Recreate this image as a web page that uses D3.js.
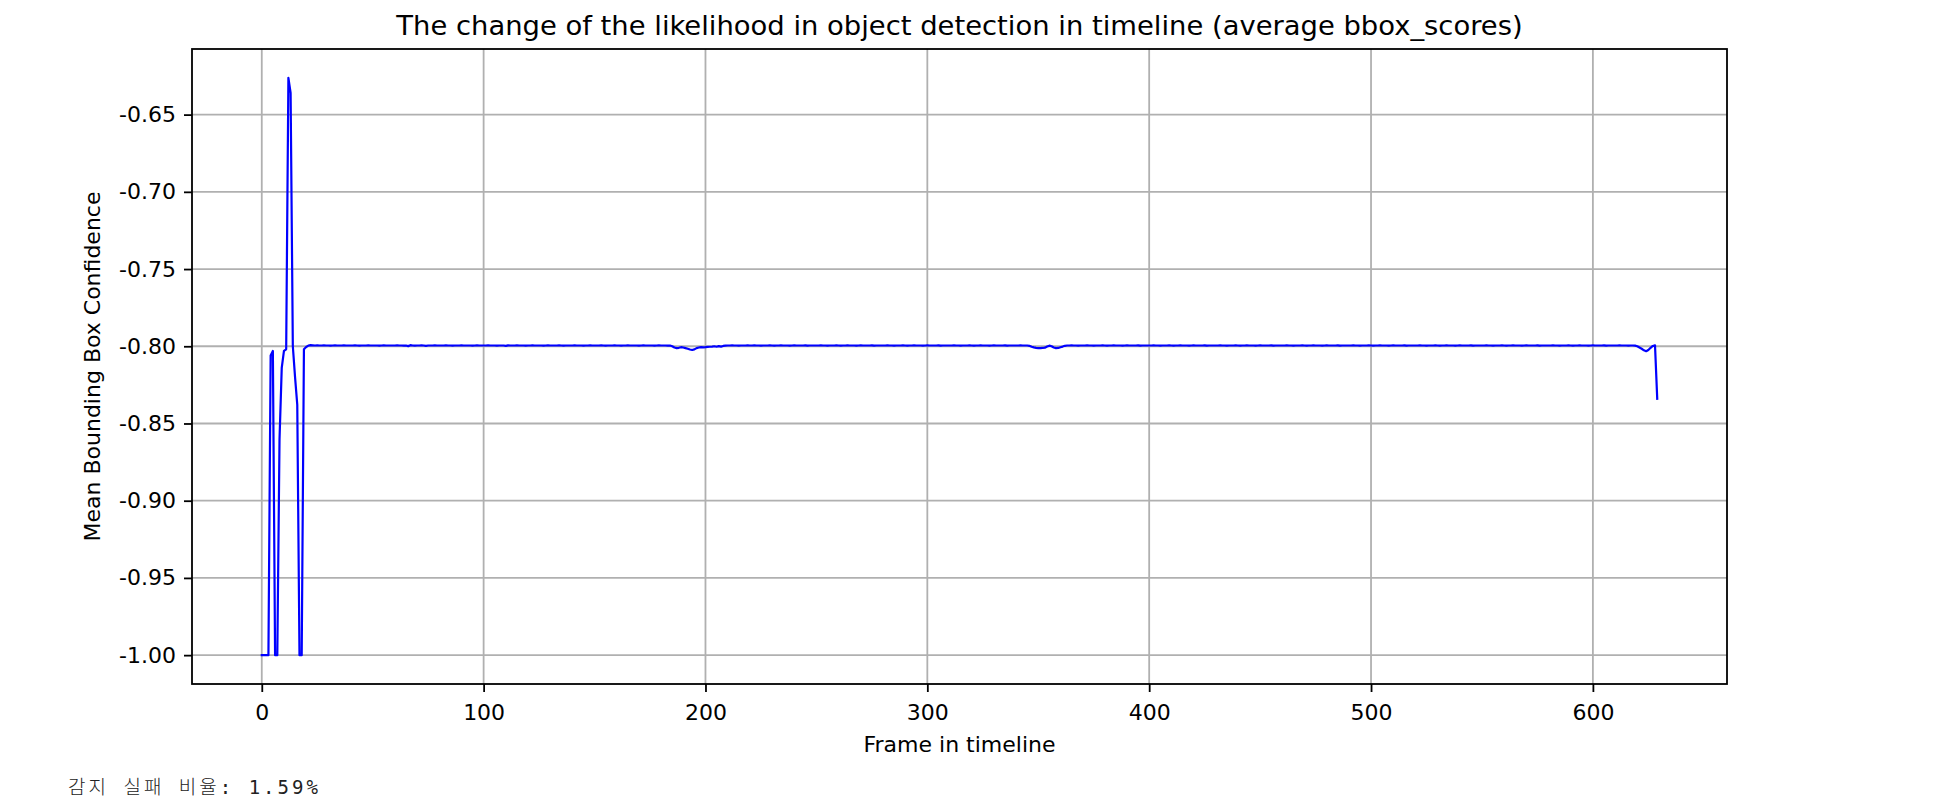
<!DOCTYPE html>
<html lang="ko">
<head>
    <meta charset="UTF-8">
    <title>bbox_scores timeline</title>
    <script src="https://cdn.jsdelivr.net/npm/d3@7"></script>
    <style>
        body {
            margin: 0;
            background-color: white;
        }

        svg text {
            font-family: "DejaVu Sans", sans-serif;
            fill: black;
        }

        .grid line {
            stroke: #b0b0b0;
            stroke-width: 1.8px;
        }

        .axis .tick line {
            stroke: black;
            stroke-width: 1.8px;
        }

        .fail-rate {
            font-family: "DejaVu Sans Mono", "Noto Sans CJK KR", monospace !important;
            font-weight: 300;
            fill: #222 !important;
        }
    </style>
</head>
<body>
    <svg id="chart" width="1938" height="810"></svg>

    <script>
        // mean bbox score per frame (index = frame number)
        const scores = [
            -1, -1, -1, -1, -0.806, -0.803, -1, -1, -0.86, -0.814,
            -0.803, -0.802, -0.6262, -0.636, -0.8, -0.82, -0.838, -1, -1, -0.802,
            -0.8005, -0.7996, -0.7993, -0.7994, -0.7995, -0.7994, -0.7995, -0.7995, -0.7994, -0.7995,
            -0.7995, -0.7996, -0.7995, -0.7994, -0.7995, -0.7995, -0.7995, -0.7994, -0.7995, -0.7995,
            -0.7995, -0.7995, -0.7994, -0.7995, -0.7996, -0.7995, -0.7995, -0.7995, -0.7994, -0.7995,
            -0.7995, -0.7995, -0.7995, -0.7996, -0.7995, -0.7994, -0.7995, -0.7995, -0.7995, -0.7995,
            -0.7995, -0.7994, -0.7995, -0.7995, -0.7996, -0.7995, -0.7999, -0.7993, -0.7995, -0.7996,
            -0.7995, -0.7995, -0.7994, -0.7995, -0.7997, -0.7995, -0.7995, -0.7995, -0.7994, -0.7995,
            -0.7995, -0.7995, -0.7995, -0.7994, -0.7995, -0.7995, -0.7996, -0.7995, -0.7995, -0.7995,
            -0.7994, -0.7995, -0.7995, -0.7995, -0.7995, -0.7996, -0.7995, -0.7994, -0.7995, -0.7995,
            -0.7995, -0.7995, -0.7994, -0.7995, -0.7995, -0.7995, -0.7996, -0.7995, -0.7995, -0.7995,
            -0.7997, -0.7994, -0.7995, -0.7995, -0.7995, -0.7994, -0.7995, -0.7995, -0.7995, -0.7996,
            -0.7995, -0.7995, -0.7994, -0.7995, -0.7995, -0.7995, -0.7995, -0.7996, -0.7995, -0.7994,
            -0.7995, -0.7995, -0.7995, -0.7995, -0.7994, -0.7995, -0.7996, -0.7995, -0.7995, -0.7995,
            -0.7995, -0.7994, -0.7995, -0.7995, -0.7995, -0.7996, -0.7995, -0.7995, -0.7994, -0.7995,
            -0.7995, -0.7995, -0.7995, -0.7994, -0.7995, -0.7996, -0.7995, -0.7995, -0.7995, -0.7994,
            -0.7995, -0.7995, -0.7996, -0.7995, -0.7995, -0.7994, -0.7995, -0.7995, -0.7995, -0.7995,
            -0.7996, -0.7995, -0.7994, -0.7995, -0.7995, -0.7995, -0.7995, -0.7996, -0.7995, -0.7994,
            -0.7995, -0.7995, -0.7995, -0.7996, -0.7995, -0.8000, -0.8008, -0.8012, -0.8010, -0.8006,
            -0.8008, -0.8012, -0.8016, -0.8021, -0.8024, -0.8020, -0.8012, -0.8008, -0.8006, -0.8007,
            -0.8006, -0.8004, -0.8003, -0.8002, -0.8000, -0.8003, -0.7999, -0.8002, -0.7998, -0.7996,
            -0.7995, -0.7995, -0.7994, -0.7995, -0.7995, -0.7996, -0.7995, -0.7995, -0.7995, -0.7994,
            -0.7995, -0.7995, -0.7994, -0.7995, -0.7995, -0.7996, -0.7995, -0.7995, -0.7995, -0.7994,
            -0.7995, -0.7996, -0.7995, -0.7995, -0.7994, -0.7995, -0.7995, -0.7995, -0.7996, -0.7995,
            -0.7994, -0.7995, -0.7995, -0.7995, -0.7995, -0.7994, -0.7996, -0.7995, -0.7995, -0.7995,
            -0.7995, -0.7995, -0.7994, -0.7995, -0.7995, -0.7996, -0.7995, -0.7995, -0.7995, -0.7994,
            -0.7995, -0.7996, -0.7995, -0.7995, -0.7994, -0.7995, -0.7995, -0.7995, -0.7996, -0.7995,
            -0.7994, -0.7995, -0.7995, -0.7995, -0.7995, -0.7994, -0.7996, -0.7995, -0.7995, -0.7995,
            -0.7995, -0.7995, -0.7994, -0.7995, -0.7995, -0.7996, -0.7995, -0.7995, -0.7995, -0.7994,
            -0.7995, -0.7996, -0.7995, -0.7995, -0.7994, -0.7995, -0.7995, -0.7995, -0.7996, -0.7995,
            -0.7994, -0.7995, -0.7995, -0.7995, -0.7995, -0.7994, -0.7996, -0.7995, -0.7995, -0.7995,
            -0.7995, -0.7995, -0.7994, -0.7995, -0.7995, -0.7996, -0.7995, -0.7995, -0.7995, -0.7994,
            -0.7995, -0.7996, -0.7995, -0.7995, -0.7994, -0.7995, -0.7995, -0.7995, -0.7996, -0.7995,
            -0.7994, -0.7995, -0.7995, -0.7995, -0.7995, -0.7994, -0.7996, -0.7995, -0.7995, -0.7995,
            -0.7995, -0.7995, -0.7994, -0.7995, -0.7995, -0.7995, -0.7997, -0.8003, -0.8007, -0.8010,
            -0.8012, -0.8012, -0.8011, -0.8009, -0.8002, -0.7996, -0.8000, -0.8008, -0.8012, -0.8011,
            -0.8006, -0.8002, -0.7997, -0.7995, -0.7995, -0.7994, -0.7995, -0.7995, -0.7996, -0.7995,
            -0.7995, -0.7995, -0.7994, -0.7995, -0.7995, -0.7996, -0.7995, -0.7995, -0.7995, -0.7994,
            -0.7995, -0.7996, -0.7995, -0.7995, -0.7994, -0.7995, -0.7995, -0.7995, -0.7996, -0.7995,
            -0.7994, -0.7995, -0.7995, -0.7995, -0.7995, -0.7994, -0.7996, -0.7995, -0.7995, -0.7995,
            -0.7995, -0.7995, -0.7994, -0.7995, -0.7995, -0.7996, -0.7995, -0.7995, -0.7995, -0.7994,
            -0.7995, -0.7996, -0.7995, -0.7995, -0.7994, -0.7995, -0.7995, -0.7995, -0.7996, -0.7995,
            -0.7994, -0.7995, -0.7995, -0.7995, -0.7995, -0.7994, -0.7996, -0.7995, -0.7995, -0.7995,
            -0.7995, -0.7995, -0.7994, -0.7995, -0.7995, -0.7996, -0.7995, -0.7995, -0.7995, -0.7994,
            -0.7995, -0.7996, -0.7995, -0.7995, -0.7994, -0.7995, -0.7995, -0.7995, -0.7996, -0.7995,
            -0.7994, -0.7995, -0.7995, -0.7995, -0.7995, -0.7994, -0.7996, -0.7995, -0.7995, -0.7995,
            -0.7995, -0.7995, -0.7994, -0.7995, -0.7995, -0.7996, -0.7995, -0.7995, -0.7995, -0.7994,
            -0.7995, -0.7996, -0.7995, -0.7995, -0.7994, -0.7995, -0.7995, -0.7995, -0.7996, -0.7995,
            -0.7994, -0.7995, -0.7995, -0.7995, -0.7995, -0.7994, -0.7996, -0.7995, -0.7995, -0.7995,
            -0.7995, -0.7995, -0.7994, -0.7995, -0.7995, -0.7996, -0.7995, -0.7995, -0.7995, -0.7994,
            -0.7995, -0.7996, -0.7995, -0.7995, -0.7994, -0.7995, -0.7995, -0.7995, -0.7996, -0.7995,
            -0.7994, -0.7995, -0.7995, -0.7995, -0.7995, -0.7994, -0.7996, -0.7995, -0.7995, -0.7995,
            -0.7995, -0.7995, -0.7994, -0.7995, -0.7995, -0.7996, -0.7995, -0.7995, -0.7995, -0.7994,
            -0.7995, -0.7996, -0.7995, -0.7995, -0.7994, -0.7995, -0.7995, -0.7995, -0.7996, -0.7995,
            -0.7994, -0.7995, -0.7995, -0.7995, -0.7995, -0.7994, -0.7996, -0.7995, -0.7995, -0.7995,
            -0.7995, -0.7995, -0.7994, -0.7995, -0.7995, -0.7996, -0.7995, -0.7995, -0.7995, -0.7994,
            -0.7995, -0.7996, -0.7995, -0.7995, -0.7994, -0.7995, -0.7995, -0.7995, -0.7996, -0.7995,
            -0.7994, -0.7995, -0.7995, -0.7995, -0.7995, -0.7994, -0.7996, -0.7995, -0.7995, -0.7995,
            -0.7995, -0.7995, -0.7994, -0.7995, -0.7995, -0.7996, -0.7995, -0.7995, -0.7995, -0.7994,
            -0.7995, -0.7996, -0.7995, -0.7995, -0.7994, -0.7995, -0.7995, -0.7995, -0.7996, -0.7995,
            -0.7994, -0.7995, -0.7995, -0.7995, -0.7995, -0.7994, -0.7996, -0.7995, -0.7995, -0.7995,
            -0.7995, -0.7995, -0.7994, -0.7995, -0.7995, -0.7995, -0.7996, -0.7995, -0.7995, -0.7996,
            -0.8000, -0.8008, -0.8016, -0.8026, -0.8032, -0.8024, -0.8010, -0.7998, -0.7994, -0.834
        ];

        const xTicks = [0, 100, 200, 300, 400, 500, 600];
        const yTicks = [-1.00, -0.95, -0.90, -0.85, -0.80, -0.75, -0.70, -0.65];

        const titleText = "The change of the likelihood in object detection in timeline (average bbox_scores)";
        const xLabelText = "Frame in timeline";
        const yLabelText = "Mean Bounding Box Confidence";
        const failRateText = "감지 실패 비율: 1.59%";

        const svg = d3.select("#chart");

        const plot = { left: 192, right: 1727, top: 49, bottom: 684 };

        // matplotlib style 5% margins around the data
        const lastFrame = scores.length - 1;
        const yMin = d3.min(scores), yMax = d3.max(scores);
        const yPad = (yMax - yMin) * 0.05;

        const x = d3.scaleLinear()
            .domain([-0.05 * lastFrame, 1.05 * lastFrame])
            .range([plot.left, plot.right]);

        const y = d3.scaleLinear()
            .domain([yMin - yPad, yMax + yPad])
            .range([plot.bottom, plot.top]);

        // grid
        const grid = svg.append("g").attr("class", "grid");
        grid.selectAll(".vgrid")
            .data(xTicks)
            .enter().append("line")
            .attr("x1", d => x(d)).attr("x2", d => x(d))
            .attr("y1", plot.top).attr("y2", plot.bottom);
        grid.selectAll(".hgrid")
            .data(yTicks)
            .enter().append("line")
            .attr("x1", plot.left).attr("x2", plot.right)
            .attr("y1", d => y(d)).attr("y2", d => y(d));

        // the line
        const line = d3.line()
            .x((d, i) => x(i))
            .y(d => y(d));

        svg.append("path")
            .datum(scores)
            .attr("d", line)
            .attr("fill", "none")
            .attr("stroke", "#0000ff")
            .attr("stroke-width", 2.2)
            .attr("stroke-linejoin", "round")
            .attr("stroke-linecap", "square");

        // axes
        svg.append("g")
            .attr("class", "axis")
            .attr("transform", `translate(0,${plot.bottom})`)
            .call(d3.axisBottom(x).tickValues(xTicks).tickSize(8).tickPadding(12).tickFormat(d => String(d)));

        svg.append("g")
            .attr("class", "axis")
            .attr("transform", `translate(${plot.left},0)`)
            .call(d3.axisLeft(y).tickValues(yTicks).tickSize(8).tickPadding(8).tickFormat(d => d.toFixed(2)));

        svg.selectAll(".axis .domain").remove();
        svg.selectAll(".axis text")
            .attr("font-size", 22)
            .attr("font-family", "DejaVu Sans")
            .attr("fill", "black");

        svg.append("rect")
            .attr("x", plot.left).attr("y", plot.top)
            .attr("width", plot.right - plot.left)
            .attr("height", plot.bottom - plot.top)
            .attr("fill", "none")
            .attr("stroke", "black")
            .attr("stroke-width", 1.8);

        // titles
        const midX = (plot.left + plot.right) / 2;

        svg.append("text")
            .attr("x", midX).attr("y", 35)
            .attr("text-anchor", "middle")
            .attr("font-size", 27.4)
            .text(titleText);

        svg.append("text")
            .attr("x", midX).attr("y", 752)
            .attr("text-anchor", "middle")
            .attr("font-size", 22)
            .text(xLabelText);

        svg.append("text")
            .attr("transform", `translate(100,${(plot.top + plot.bottom) / 2}) rotate(-90)`)
            .attr("text-anchor", "middle")
            .attr("font-size", 22)
            .text(yLabelText);

        // printed output under the figure
        svg.append("text")
            .attr("class", "fail-rate")
            .attr("x", 68).attr("y", 794)
            .attr("font-size", 19)
            .attr("letter-spacing", 3)
            .text(failRateText);
    </script>
</body>
</html>
